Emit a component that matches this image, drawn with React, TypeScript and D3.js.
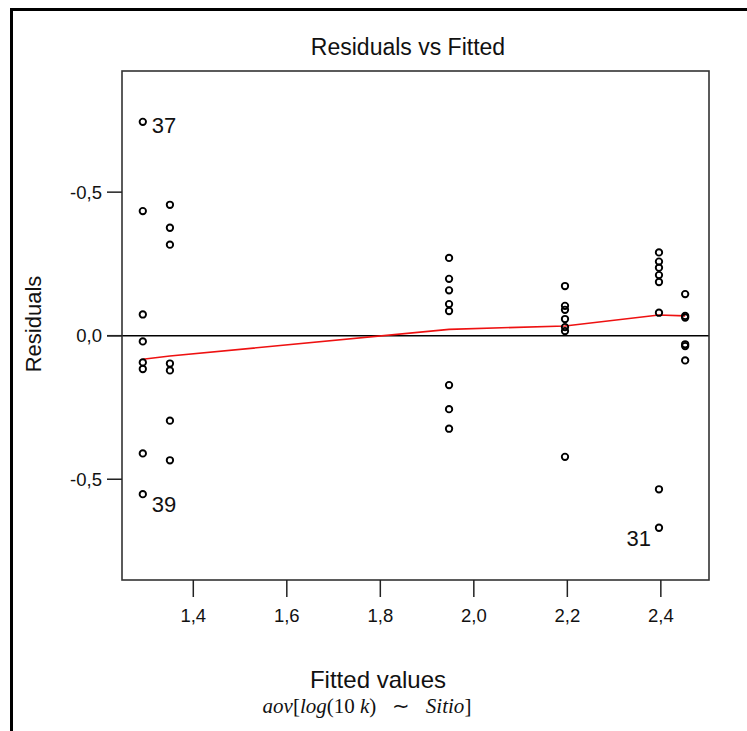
import React from 'react';
import * as d3 from 'd3';

// fitted value of each Sitio group, and the residuals observed in it
const fittedGroups = [1.292, 1.35, 1.947, 2.195, 2.396, 2.452];
const residualGroups = [
  [0.745, 0.434, 0.074, -0.02, -0.093, -0.116, -0.41, -0.552],
  [0.456, 0.376, 0.317, -0.097, -0.121, -0.296, -0.434],
  [0.271, 0.198, 0.158, 0.11, 0.086, -0.172, -0.256, -0.324],
  [0.173, 0.104, 0.09, 0.058, 0.03, 0.016, -0.422],
  [0.29, 0.258, 0.237, 0.211, 0.187, 0.08, -0.535, -0.669],
  [0.145, 0.069, 0.063, -0.03, -0.036, -0.086],
];
// lowess smoother through the groups
const smoothFitted = [1.292, 1.35, 1.947, 2.195, 2.396, 2.452];
const smoothResid = [-0.082, -0.071, 0.022, 0.034, 0.072, 0.069];

const xTicks = [1.4, 1.6, 1.8, 2.0, 2.2, 2.4];
const xTickLabels = ['1,4', '1,6', '1,8', '2,0', '2,2', '2,4'];
const yTicks = [0.5, 0, -0.5];
const yTickLabels = ['-0,5', '0,0', '-0,5'];

// flagged observations: [group, index within group, label]
const flagged: [number, number, string][] = [
  [0, 0, '37'],
  [0, 7, '39'],
  [4, 7, '31'],
];

const W = 747;
const H = 731;
const box = { left: 122, right: 709, top: 71, bottom: 580 };
const sans = '"Liberation Sans", Arial, sans-serif';

const App = () => {
  const x = d3.scaleLinear().domain([1.2475, 2.503]).range([box.left, box.right]);
  const y = d3.scaleLinear().domain([-0.851, 0.922]).range([box.bottom, box.top]);

  const points = residualGroups.flatMap((g, gi) =>
    g.map((r, i) => ({ gi, i, fx: fittedGroups[gi], r }))
  );

  const line = d3
    .line<number>()
    .x((_, i) => x(smoothFitted[i]))
    .y((d) => y(d));

  return (
    <svg
      width={W}
      height={H}
      style={{ position: 'absolute', left: 0, top: 0, background: '#fff' }}
      fontFamily={sans}
    >
      <rect x={0} y={0} width={W} height={H} fill="#fff" />
      {/* outer frame: only top and left edges show */}
      <line x1={11.5} y1={9.5} x2={W} y2={9.5} stroke="#000" strokeWidth={3} />
      <line x1={11.5} y1={8} x2={11.5} y2={H} stroke="#000" strokeWidth={3} />

      <text x={408} y={55} fontSize={23} textAnchor="middle" fill="#111">
        Residuals vs Fitted
      </text>

      {/* zero reference line */}
      <line x1={107} x2={box.right} y1={y(0)} y2={y(0)} stroke="#000" strokeWidth={1.5} />

      <path
        d={line(smoothResid) ?? ''}
        fill="none"
        stroke="#ee1111"
        strokeWidth={1.6}
      />

      {points.map((p, k) => (
        <circle
          key={k}
          cx={x(p.fx)}
          cy={y(p.r)}
          r={3.2}
          fill="none"
          stroke="#000"
          strokeWidth={1.9}
        />
      ))}

      {flagged.map(([gi, i, lab]) => {
        const cx = x(fittedGroups[gi]);
        const cy = y(residualGroups[gi][i]);
        const right = lab !== '31';
        return (
          <text
            key={lab}
            x={right ? cx + 9 : cx - 8}
            y={lab === '37' ? cy + 11 : cy + 18}
            fontSize={22}
            textAnchor={right ? 'start' : 'end'}
            fill="#111"
          >
            {lab}
          </text>
        );
      })}

      <rect
        x={box.left}
        y={box.top}
        width={box.right - box.left}
        height={box.bottom - box.top}
        fill="none"
        stroke="#333"
        strokeWidth={1.6}
      />

      {/* y axis */}
      {yTicks.map((t, i) => (
        <g key={i}>
          <line x1={107} x2={box.left} y1={y(t)} y2={y(t)} stroke="#222" strokeWidth={1.5} />
          <text x={102} y={y(t) + 6.5} fontSize={18.5} textAnchor="end" fill="#111">
            {yTickLabels[i]}
          </text>
        </g>
      ))}

      {/* x axis */}
      {xTicks.map((t, i) => (
        <g key={i}>
          <line x1={x(t)} x2={x(t)} y1={box.bottom} y2={597} stroke="#222" strokeWidth={1.5} />
          <text x={x(t)} y={622} fontSize={18.5} textAnchor="middle" fill="#111">
            {xTickLabels[i]}
          </text>
        </g>
      ))}

      <text
        transform="translate(41,324) rotate(-90)"
        fontSize={22}
        textAnchor="middle"
        fill="#111"
      >
        Residuals
      </text>

      <text x={378} y={688} fontSize={24} textAnchor="middle" fill="#111">
        Fitted values
      </text>

      <text
        x={367}
        y={713}
        fontSize={21}
        textAnchor="middle"
        fontFamily='"Liberation Serif", "Times New Roman", serif'
        fill="#111"
        style={{ whiteSpace: 'pre' }}
      >
        <tspan fontStyle="italic">aov</tspan>
        <tspan>[</tspan>
        <tspan fontStyle="italic">log</tspan>
        <tspan>{'(10 '}</tspan>
        <tspan fontStyle="italic">k</tspan>
        <tspan>{')   \u223C   '}</tspan>
        <tspan fontStyle="italic">Sitio</tspan>
        <tspan>]</tspan>
      </text>
    </svg>
  );
};

export default App;
